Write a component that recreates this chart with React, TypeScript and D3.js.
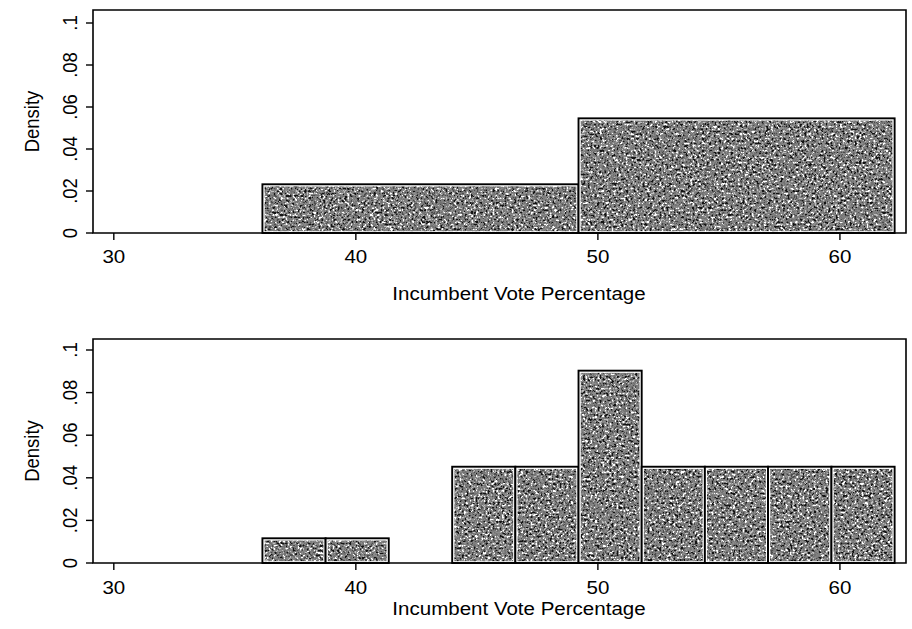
import React from 'react';
import * as d3 from 'd3';

// histogram bins (vote %), densities
const edgesTop = [36.14, 49.2, 62.26];
const densityTop = [0.0232, 0.0546];

const edgesBottom = [36.14, 38.75, 41.36, 43.98, 46.59, 49.2, 51.81, 54.42, 57.03, 59.65, 62.26];
const densityBottom = [0.0116, 0.0116, 0, 0.0452, 0.0452, 0.0903, 0.0452, 0.0452, 0.0452, 0.0452];

const xTicks = [30, 40, 50, 60];
const yTicks = [0, 0.02, 0.04, 0.06, 0.08, 0.1];
const yTickLabels = ['0', '.02', '.04', '.06', '.08', '.1'];

const xTitle = 'Incumbent Vote Percentage';
const yTitle = 'Density';

const W = 912;
const H = 629;
const FONT = '"Liberation Sans", Arial, Helvetica, sans-serif';
const FS = 18.5;
const SX = 1.11; // scan is a little wide

const x = d3.scaleLinear().domain([29.14, 62.73]).range([93, 906]);

type PanelProps = {
  edges: number[];
  density: number[];
  top: number;
  bottom: number;
  yMaxPx: number;
  tickBase: number;
  titleBase: number;
};

const Panel = ({ edges, density, top, bottom, yMaxPx, tickBase, titleBase }: PanelProps) => {
  const y = d3.scaleLinear().domain([0, 0.1]).range([bottom, yMaxPx]);
  const [x0, x1] = x.range();
  const midY = (top + bottom) / 2;

  return (
    <g>
      {/* bars */}
      {density.map((d, i) => {
        if (d <= 0) return null;
        const a = x(edges[i]);
        const b = x(edges[i + 1]);
        const t = y(d);
        return (
          <g key={i}>
            <rect x={a} y={t} width={b - a} height={bottom - t} fill="#fff" stroke="#000" strokeWidth={1.9} />
            <rect
              x={a + 2.2}
              y={t + 2.2}
              width={b - a - 4.4}
              height={bottom - t - 4}
              fill="#808080"
              filter="url(#grain)"
            />
          </g>
        );
      })}

      {/* frame */}
      <path
        d={`M${x0},${bottom} V${top} H${x1} V${bottom} Z`}
        fill="none"
        stroke="#000"
        strokeWidth={1.6}
      />

      {/* y axis */}
      {yTicks.map((v, i) => (
        <g key={v}>
          <line x1={x0 - 7} x2={x0} y1={y(v)} y2={y(v)} stroke="#000" strokeWidth={1.4} />
          <g transform={`translate(77,${y(v)}) scale(${SX},1) rotate(-90)`}>
            <text textAnchor="middle" fontFamily={FONT} fontSize={FS} fill="#000">
              {yTickLabels[i]}
            </text>
          </g>
        </g>
      ))}
      <g transform={`translate(39,${midY}) scale(${SX},1) rotate(-90)`}>
        <text textAnchor="middle" fontFamily={FONT} fontSize={FS} fill="#000">
          {yTitle}
        </text>
      </g>

      {/* x axis */}
      {xTicks.map(v => (
        <g key={v}>
          <line x1={x(v)} x2={x(v)} y1={bottom} y2={bottom + 7} stroke="#000" strokeWidth={1.4} />
          <g transform={`translate(${x(v)},${tickBase}) scale(${SX},1)`}>
            <text textAnchor="middle" fontFamily={FONT} fontSize={FS} fill="#000">
              {v}
            </text>
          </g>
        </g>
      ))}
      <g transform={`translate(519,${titleBase}) scale(${SX},1)`}>
        <text textAnchor="middle" fontFamily={FONT} fontSize={FS} fill="#000">
          {xTitle}
        </text>
      </g>
    </g>
  );
};

export default function App() {
  return (
    <svg
      width={W}
      height={H}
      viewBox={`0 0 ${W} ${H}`}
      style={{ position: 'absolute', left: 0, top: 0, background: '#fff' }}
    >
      <defs>
        <filter id="grain" x="0" y="0" width="100%" height="100%" colorInterpolationFilters="sRGB">
          <feTurbulence type="fractalNoise" baseFrequency="0.42" numOctaves={3} seed={4} result="n" />
          <feColorMatrix
            in="n"
            type="matrix"
            values="0.33 0.33 0.33 0 0  0.33 0.33 0.33 0 0  0.33 0.33 0.33 0 0  0 0 0 0 1"
            result="g"
          />
          <feComponentTransfer in="g" result="c">
            <feFuncR type="linear" slope={3.4} intercept={-1.2} />
            <feFuncG type="linear" slope={3.4} intercept={-1.2} />
            <feFuncB type="linear" slope={3.4} intercept={-1.2} />
          </feComponentTransfer>
          <feComponentTransfer in="c" result="d">
            <feFuncR type="discrete" tableValues="0.08 0.3 0.45 0.5 0.55 0.75 1" />
            <feFuncG type="discrete" tableValues="0.08 0.3 0.45 0.5 0.55 0.75 1" />
            <feFuncB type="discrete" tableValues="0.08 0.3 0.45 0.5 0.55 0.75 1" />
          </feComponentTransfer>
          <feComposite in="d" in2="SourceGraphic" operator="in" />
        </filter>
      </defs>
      <rect width={W} height={H} fill="#fff" />
      <Panel
        edges={edgesTop}
        density={densityTop}
        top={10}
        bottom={233}
        yMaxPx={23}
        tickBase={263}
        titleBase={300}
      />
      <Panel
        edges={edgesBottom}
        density={densityBottom}
        top={339}
        bottom={563}
        yMaxPx={350}
        tickBase={594}
        titleBase={615}
      />
    </svg>
  );
}
